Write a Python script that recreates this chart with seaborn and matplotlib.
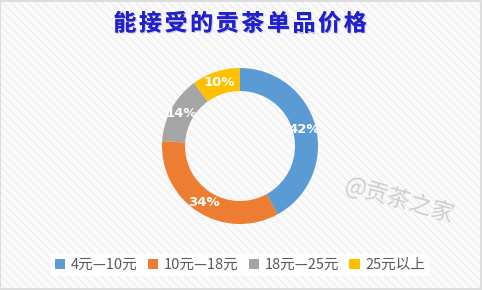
import matplotlib
matplotlib.use("Agg")
import matplotlib.pyplot as plt
import seaborn as sns
import numpy as np
from matplotlib.patches import Rectangle, Patch
import matplotlib.patheffects as pe

categories = ["4元—10元", "10元—18元", "18元—25元", "25元以上"]
values = [42, 34, 14, 10]
labels = ["42%", "34%", "14%", "10%"]
title = "能接受的贡茶单品价格"
watermark = "@贡茶之家"

sns.set_theme(style="white")
plt.rcParams['font.family'] = ['Noto Sans CJK SC', 'DejaVu Sans']
colors = ["#5b9bd5", "#ed7d31", "#a5a5a5", "#ffc000"]

W, H = 482, 290
fig = plt.figure(figsize=(W / 100, H / 100), dpi=100)
fig.patch.set_facecolor("#fbfbfb")
bg = Rectangle((0, 0), 1, 1, transform=fig.transFigure, facecolor="#fbfbfb",
               edgecolor="#efefef", hatch="\\\\\\\\", linewidth=0, zorder=-10)
fig.patches.append(bg)
border = Rectangle((0.001, 0.002), 0.997, 0.995, transform=fig.transFigure, fill=False,
                   edgecolor="#d9d9d9", linewidth=1.2, zorder=-9)
fig.patches.append(border)

cx, cy, r = 240, 146, 78
ax = fig.add_axes([(cx - r) / W, (H - cy - r) / H, 2 * r / W, 2 * r / H])
ax.axis("off")
ring = 0.295
wedges, texts = ax.pie(values, colors=colors, startangle=90, counterclock=False,
                       radius=1, wedgeprops=dict(width=ring, edgecolor="none"))
ax.set_xlim(-1, 1)
ax.set_ylim(-1, 1)
ax.set_aspect("auto")
cum = np.cumsum([0] + values)
total = sum(values)
rl = 1 - ring / 2
for i, lab in enumerate(labels):
    mid = (cum[i] + cum[i + 1]) / 2 / total
    ang = np.deg2rad(90 - 360 * mid)
    ax.text(rl * np.cos(ang), rl * np.sin(ang), lab, ha="center", va="center",
            color="white", fontsize=9.5, fontweight="bold", family=['DejaVu Sans'])

# title with Excel-like letter spacing
x0, pitch = 112, 25.6
for i, ch in enumerate(title):
    fig.text((x0 + pitch / 2 + pitch * i) / W, 1 - 24 / H, ch, ha="center", va="center",
             fontsize=16.5, fontweight="bold", color="#2020d0",
             path_effects=[pe.withSimplePatchShadow(offset=(0.8, -0.8), shadow_rgbFace="#9090c0", alpha=0.5), pe.Normal()])

fig.text(399 / W, 1 - 200 / H, watermark, ha="center", va="center", fontsize=16.5,
         rotation=-16, color="#cfcfcf")

handles = [Patch(facecolor=c, edgecolor="none") for c in colors]
leg = fig.legend(handles, categories, loc="center", bbox_to_anchor=(240 / W, 1 - 265 / H),
                 ncol=4, frameon=True, fontsize=10.5, handlelength=0.7, handleheight=0.7,
                 handletextpad=0.4, columnspacing=0.7, borderpad=0.3)
leg.get_frame().set_facecolor("white")
leg.get_frame().set_edgecolor("none")
leg.get_frame().set_alpha(0.9)
for t in leg.get_texts():
    t.set_color("#595959")

fig.savefig("out.png", dpi=100, facecolor=fig.get_facecolor())
